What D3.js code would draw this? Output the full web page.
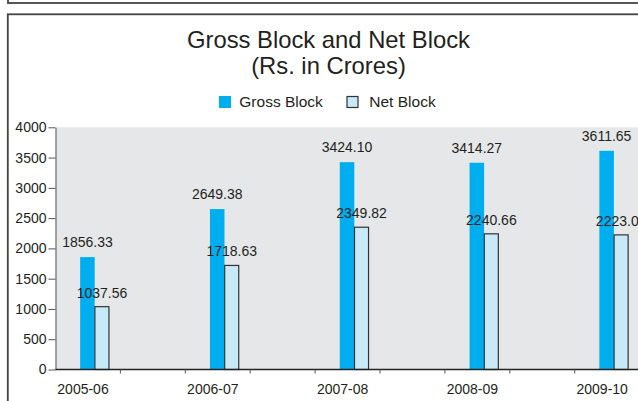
<!DOCTYPE html>
<html>
<head>
<meta charset="utf-8">
<script src="https://cdn.jsdelivr.net/npm/d3@7"></script>
<style>
  html, body { margin: 0; padding: 0; background: #fff; overflow: hidden; }
  svg { display: block; font-family: "Liberation Sans", Arial, sans-serif; }
</style>
</head>
<body>
<script>
const categories = ["2005-06", "2006-07", "2007-08", "2008-09", "2009-10"];
const grossBlock = [1856.33, 2649.38, 3424.10, 3414.27, 3611.65];
const netBlock = [1037.56, 1718.63, 2349.82, 2240.66, 2223.02];
const seriesNames = ["Gross Block", "Net Block"];
const yTicks = [0, 500, 1000, 1500, 2000, 2500, 3000, 3500, 4000];
const titleLines = ["Gross Block and Net Block", "(Rs. in Crores)"];

const W = 638, H = 401;
const textColor = "#231f20";
const grossColor = "#00aeef";
const netColor = "#c7e9f8";
const netStroke = "#333333";

const svg = d3.select("body").append("svg").attr("width", W).attr("height", H);

// frames
svg.append("rect").attr("x", 8).attr("y", -20).attr("width", 700).attr("height", 23)
  .attr("fill", "none").attr("stroke", "#444").attr("stroke-width", 1.8);
svg.append("rect").attr("x", 7.8).attr("y", 14.3).attr("width", 700).attr("height", 500)
  .attr("fill", "none").attr("stroke", "#444").attr("stroke-width", 1.8);

// scales
const plotLeft = 55.5, plotTop = 127.3, plotBottom = 369.5;
const x = d3.scaleBand().domain(categories).range([plotLeft, plotLeft + 129.8 * categories.length]);
const bw = x.bandwidth();
const y = d3.scaleLinear().domain([0, 4000]).range([plotBottom, plotTop]);

// plot background
svg.append("rect").attr("x", plotLeft).attr("y", y(4000)).attr("width", W - plotLeft).attr("height", y(0) - y(4000))
  .attr("fill", "#e6e7e8");

// title
svg.append("g").selectAll("text").data(titleLines).join("text")
  .attr("x", 328.5).attr("y", (d, i) => 48.3 + i * 25.9)
  .attr("text-anchor", "middle").attr("font-size", 23.8).attr("fill", textColor)
  .text(d => d);

// legend
const legend = svg.append("g").attr("font-size", 15.5).attr("fill", textColor);
const legendX = [219, 346.5];
legend.selectAll("rect").data(seriesNames).join("rect")
  .attr("x", (d, i) => legendX[i] + (i ? 0.5 : 0)).attr("y", (d, i) => i ? 96.5 : 96)
  .attr("width", (d, i) => i ? 11 : 12).attr("height", (d, i) => i ? 11 : 12)
  .attr("fill", (d, i) => i ? netColor : grossColor)
  .attr("stroke", (d, i) => i ? netStroke : "none").attr("stroke-width", 1.2);
legend.selectAll("text").data(seriesNames).join("text")
  .attr("x", (d, i) => legendX[i] + 20.3 + (i ? 2.5 : 0)).attr("y", 106.8)
  .text(d => d);

// y axis
const yAxis = svg.append("g").attr("transform", `translate(${plotLeft},0)`)
  .call(d3.axisLeft(y).tickValues(yTicks).tickFormat(d3.format("d")).tickSize(7).tickSizeOuter(0).tickPadding(2));
yAxis.selectAll("text").attr("font-size", 14).attr("fill", textColor).attr("font-family", "Liberation Sans, Arial, sans-serif");
yAxis.selectAll("line").attr("stroke", "#555");
yAxis.select(".domain").attr("stroke", "#555");

// bars
const gBars = svg.append("g");
const barW = bw * 0.112;
const grossOff = bw * 0.19;
gBars.selectAll("rect.gross").data(categories).join("rect").attr("class", "gross")
  .attr("x", (c) => x(c) + grossOff).attr("width", barW)
  .attr("y", (c, i) => y(grossBlock[i])).attr("height", (c, i) => y(0) - y(grossBlock[i]))
  .attr("fill", grossColor);
gBars.selectAll("rect.net").data(categories).join("rect").attr("class", "net")
  .attr("x", (c) => x(c) + grossOff + barW + 0.2).attr("width", barW - 0.5)
  .attr("y", (c, i) => y(netBlock[i])).attr("height", (c, i) => y(0) - y(netBlock[i]))
  .attr("fill", netColor).attr("stroke", netStroke).attr("stroke-width", 1.2);

// value labels
const gLabels = svg.append("g").attr("font-size", 14).attr("fill", textColor).attr("text-anchor", "middle");
gLabels.selectAll("text.g").data(categories).join("text").attr("class", "g")
  .attr("x", c => x(c) + grossOff + barW / 2).attr("y", (c, i) => y(grossBlock[i]) - 10)
  .text((c, i) => grossBlock[i].toFixed(2));
gLabels.selectAll("text.n").data(categories).join("text").attr("class", "n")
  .attr("x", c => x(c) + grossOff + barW * 1.5).attr("y", (c, i) => y(netBlock[i]) - 9)
  .text((c, i) => netBlock[i].toFixed(2));

// x axis
const xAxis = svg.append("g");
xAxis.append("line").attr("x1", plotLeft).attr("x2", W).attr("y1", y(0)).attr("y2", y(0))
  .attr("stroke", "#222").attr("stroke-width", 1.4);
const tickPos = [];
categories.forEach(c => { tickPos.push(x(c) + bw / 2, x(c) + bw); });
xAxis.selectAll("line.t").data(tickPos).join("line").attr("class", "t")
  .attr("x1", d => d).attr("x2", d => d).attr("y1", y(0)).attr("y2", y(0) + 4)
  .attr("stroke", "#555").attr("stroke-width", 1);
xAxis.selectAll("text").data(categories).join("text")
  .attr("x", c => x(c) + bw * 0.212).attr("y", 394)
  .attr("text-anchor", "middle").attr("font-size", 14).attr("fill", textColor)
  .text(c => c);
</script>
</body>
</html>
